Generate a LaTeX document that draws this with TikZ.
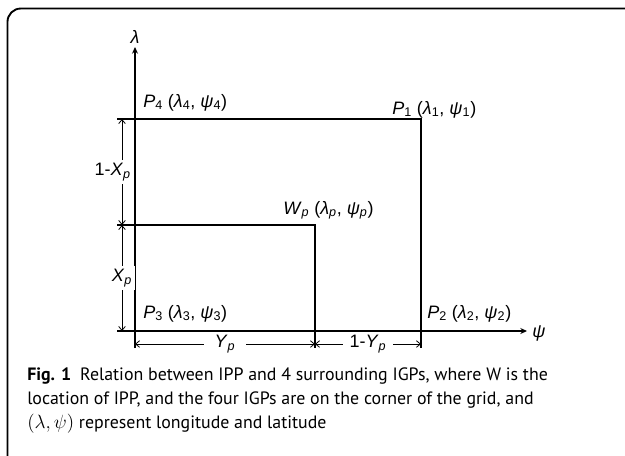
\documentclass[tikz,border=0pt]{standalone}
\usepackage{fontspec}
\setmainfont{Liberation Sans}
\newfontfamily\capfont{PT Sans}
\usetikzlibrary{arrows.meta}

\begin{document}
\begin{tikzpicture}[
		x=0.75pt, y=-0.75pt,
		>={Stealth[length=5pt, width=4.5pt]},
		line/.style={line width=0.8pt},
		dim/.style={line width=0.6pt, {Straight Barb[length=3pt, width=5pt]}-{Straight Barb[length=3pt, width=5pt]}},
		lab/.style={font=\fontsize{13.5}{15}\selectfont, inner sep=0pt},
		dimlab/.style={lab, fill=white, inner sep=2pt}
	]

	\useasboundingbox (0,0) rectangle (625,455);

	% Frame
	\begin{scope}
		\clip (0,0) rectangle (625,455);
		\draw[line width=1.4pt, rounded corners=10pt] (7.5,480) |- (650,8.5);
	\end{scope}

	% Corners
	\coordinate (lamtop) at (135,47);
	\coordinate (lambot) at (135,348);
	\coordinate (psileft) at (117,331);
	\coordinate (psiend) at (527,331);
	\coordinate (topleft) at (117,119);
	\coordinate (P1) at (421,119);
	\coordinate (P1bot) at (421,348);
	\coordinate (wleft) at (117,225);
	\coordinate (W) at (315,225);
	\coordinate (Wbot) at (315,348);

	% Dimension ends
	\coordinate (xa) at (122,119);
	\coordinate (xb) at (122,225);
	\coordinate (xc) at (122,331);
	\coordinate (ya) at (135,344);
	\coordinate (yb) at (315,344);
	\coordinate (yc) at (421,344);

	% Axes and grid
	\draw[line, ->] (lambot) -- (lamtop);
	\draw[line, ->] (psileft) -- (psiend);
	\draw[line] (topleft) -- (P1) -- (P1bot);
	\draw[line] (wleft) -- (W) -- (Wbot);

	% Axis labels
	\node[lab] (lam) at (135,37) {\textit{λ}};
	\node[lab, anchor=west] (psi) at (532,333) {\textit{ψ}};

	% Point labels
	\node[lab, anchor=base west] (p4) at (143,107) {\textit{P}\textsubscript{4} (\textit{λ}\textsubscript{4}, \textit{ψ}\textsubscript{4})};
	\node[lab, anchor=base west] (p1) at (392,114) {\textit{P}\textsubscript{1} (\textit{λ}\textsubscript{1}, \textit{ψ}\textsubscript{1})};
	\node[lab, anchor=base west] (wp) at (283,214) {\textit{W}\textsubscript{\textit{p}} (\textit{λ}\textsubscript{\textit{p}}, \textit{ψ}\textsubscript{\textit{p}})};
	\node[lab, anchor=base west] (p3) at (143,318) {\textit{P}\textsubscript{3} (\textit{λ}\textsubscript{3}, \textit{ψ}\textsubscript{3})};
	\node[lab, anchor=base west] (p2) at (427,318) {\textit{P}\textsubscript{2} (\textit{λ}\textsubscript{2}, \textit{ψ}\textsubscript{2})};

	% Dimensions
	\draw[dim] (xa) -- node[dimlab, xshift=-7pt] (dx1) {1-\textit{X}\textsubscript{\textit{p}}} (xb);
	\draw[dim] (xb) -- node[dimlab] (dx2) {\textit{X}\textsubscript{\textit{p}}} (xc);
	\draw[dim] (ya) -- node[dimlab, inner xsep=8pt] (dy1) {\textit{Y}\textsubscript{\textit{p}}} (yb);
	\draw[dim] (yb) -- node[dimlab, inner xsep=5pt] (dy2) {1-\textit{Y}\textsubscript{\textit{p}}} (yc);

	% Caption
	\node[anchor=base west, align=left, inner sep=0pt, font=\capfont\fontsize{13.4}{18}\selectfont] (cap) at (27,428)
		{\textbf{Fig. 1}\enspace Relation between IPP and 4 surrounding IGPs, where W is the\\
		location of IPP, and the four IGPs are on the corner of the grid, and\\
		$(\lambda, \psi)$ represent longitude and latitude};

\end{tikzpicture}
\end{document}
